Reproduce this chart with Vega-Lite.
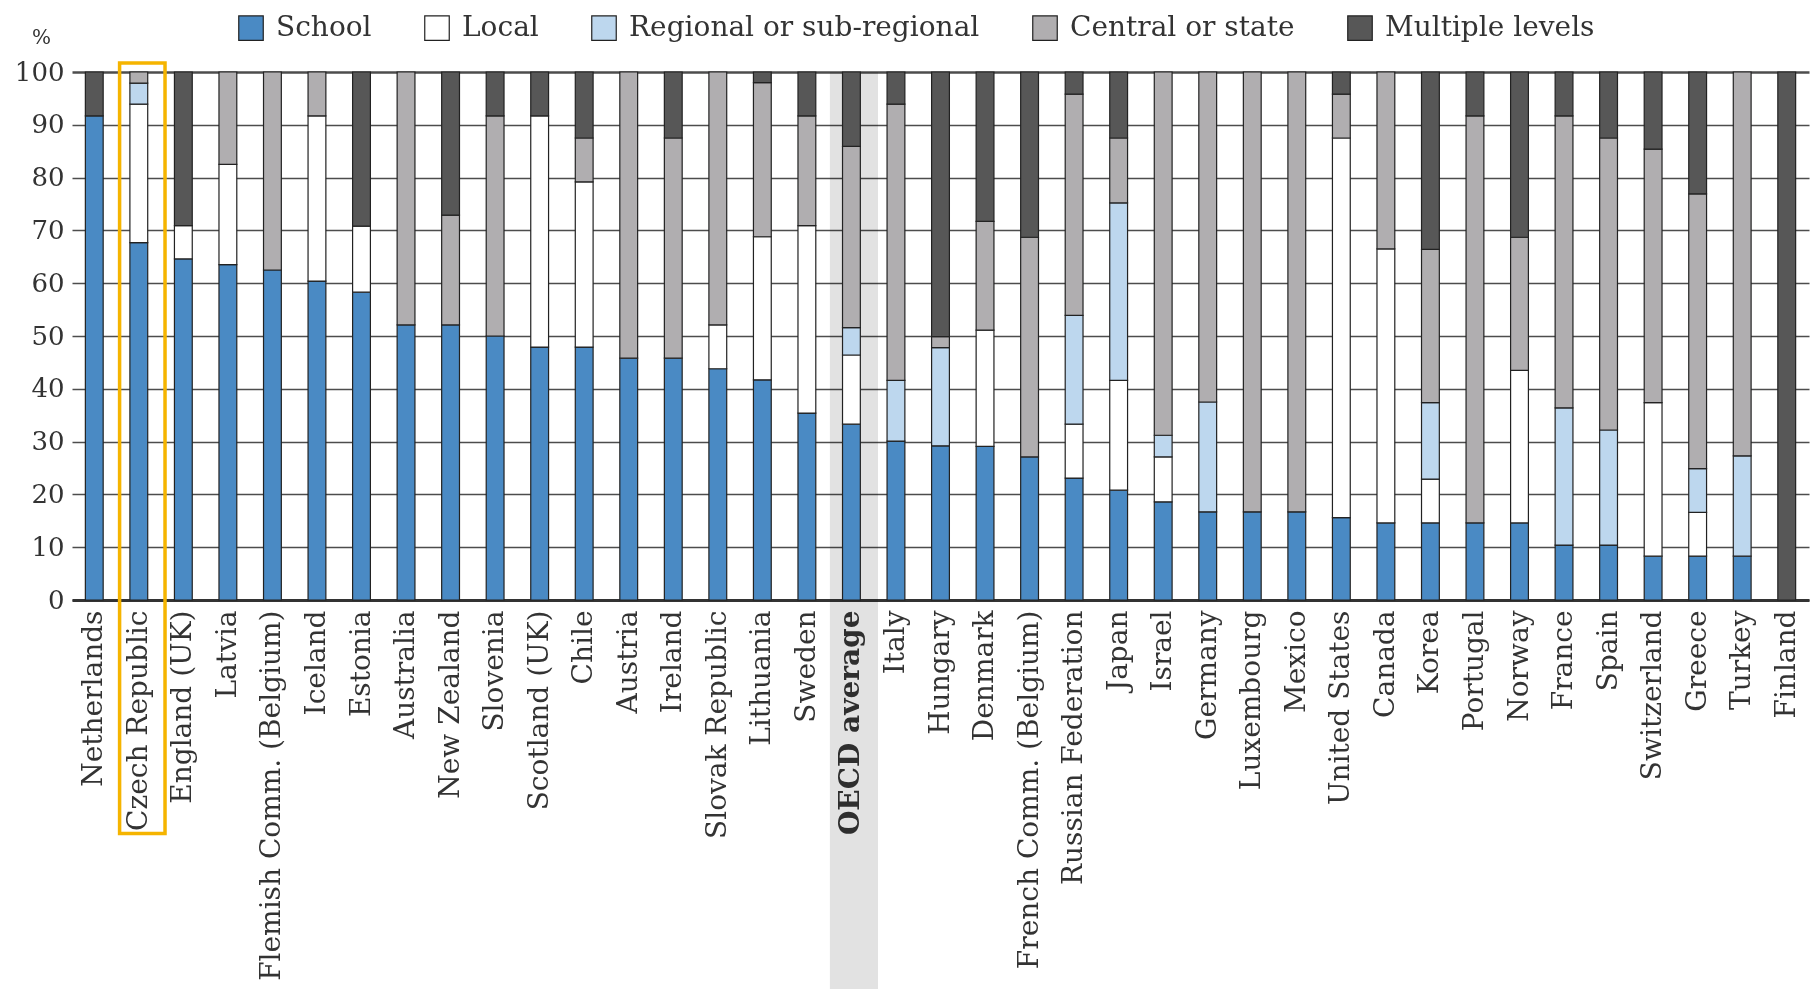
{
  "$schema": "https://vega.github.io/schema/vega-lite/v6.json",
  "width": 1737,
  "height": 528,
  "autosize": {"type": "none"},
  "padding": {"left": 72, "top": 72, "right": 5, "bottom": 389},
  "background": "white",
  "config": {"view": {"stroke": null}},
  "data": {"values": [
    {"c": "Netherlands", "School": 91.7, "Local": 0, "Regional or sub-regional": 0, "Central or state": 0, "Multiple levels": 8.3},
    {"c": "Czech Republic", "School": 67.7, "Local": 26.2, "Regional or sub-regional": 4.0, "Central or state": 2.1, "Multiple levels": 0},
    {"c": "England (UK)", "School": 64.6, "Local": 6.3, "Regional or sub-regional": 0, "Central or state": 0, "Multiple levels": 29.1},
    {"c": "Latvia", "School": 63.5, "Local": 19.0, "Regional or sub-regional": 0, "Central or state": 17.5, "Multiple levels": 0},
    {"c": "Flemish Comm. (Belgium)", "School": 62.5, "Local": 0, "Regional or sub-regional": 0, "Central or state": 37.5, "Multiple levels": 0},
    {"c": "Iceland", "School": 60.4, "Local": 31.3, "Regional or sub-regional": 0, "Central or state": 8.3, "Multiple levels": 0},
    {"c": "Estonia", "School": 58.3, "Local": 12.5, "Regional or sub-regional": 0, "Central or state": 0, "Multiple levels": 29.2},
    {"c": "Australia", "School": 52.1, "Local": 0, "Regional or sub-regional": 0, "Central or state": 47.9, "Multiple levels": 0},
    {"c": "New Zealand", "School": 52.1, "Local": 0, "Regional or sub-regional": 0, "Central or state": 20.8, "Multiple levels": 27.1},
    {"c": "Slovenia", "School": 50.0, "Local": 0, "Regional or sub-regional": 0, "Central or state": 41.7, "Multiple levels": 8.3},
    {"c": "Scotland (UK)", "School": 47.9, "Local": 43.8, "Regional or sub-regional": 0, "Central or state": 0, "Multiple levels": 8.3},
    {"c": "Chile", "School": 47.9, "Local": 31.3, "Regional or sub-regional": 0, "Central or state": 8.3, "Multiple levels": 12.5},
    {"c": "Austria", "School": 45.8, "Local": 0, "Regional or sub-regional": 0, "Central or state": 54.2, "Multiple levels": 0},
    {"c": "Ireland", "School": 45.8, "Local": 0, "Regional or sub-regional": 0, "Central or state": 41.7, "Multiple levels": 12.5},
    {"c": "Slovak Republic", "School": 43.8, "Local": 8.3, "Regional or sub-regional": 0, "Central or state": 47.9, "Multiple levels": 0},
    {"c": "Lithuania", "School": 41.7, "Local": 27.1, "Regional or sub-regional": 0, "Central or state": 29.2, "Multiple levels": 2.0},
    {"c": "Sweden", "School": 35.4, "Local": 35.5, "Regional or sub-regional": 0, "Central or state": 20.8, "Multiple levels": 8.3},
    {"c": "OECD average", "School": 33.3, "Local": 13.1, "Regional or sub-regional": 5.2, "Central or state": 34.3, "Multiple levels": 14.1},
    {"c": "Italy", "School": 30.1, "Local": 0, "Regional or sub-regional": 11.5, "Central or state": 52.3, "Multiple levels": 6.1},
    {"c": "Hungary", "School": 29.2, "Local": 0, "Regional or sub-regional": 18.6, "Central or state": 2.1, "Multiple levels": 50.1},
    {"c": "Denmark", "School": 29.1, "Local": 22.0, "Regional or sub-regional": 0, "Central or state": 20.6, "Multiple levels": 28.3},
    {"c": "French Comm. (Belgium)", "School": 27.1, "Local": 0, "Regional or sub-regional": 0, "Central or state": 41.6, "Multiple levels": 31.3},
    {"c": "Russian Federation", "School": 23.1, "Local": 10.2, "Regional or sub-regional": 20.6, "Central or state": 41.9, "Multiple levels": 4.2},
    {"c": "Japan", "School": 20.8, "Local": 20.8, "Regional or sub-regional": 33.6, "Central or state": 12.3, "Multiple levels": 12.5},
    {"c": "Israel", "School": 18.6, "Local": 8.5, "Regional or sub-regional": 4.1, "Central or state": 68.8, "Multiple levels": 0},
    {"c": "Germany", "School": 16.7, "Local": 0, "Regional or sub-regional": 20.8, "Central or state": 62.5, "Multiple levels": 0},
    {"c": "Luxembourg", "School": 16.7, "Local": 0, "Regional or sub-regional": 0, "Central or state": 83.3, "Multiple levels": 0},
    {"c": "Mexico", "School": 16.7, "Local": 0, "Regional or sub-regional": 0, "Central or state": 83.3, "Multiple levels": 0},
    {"c": "United States", "School": 15.6, "Local": 71.9, "Regional or sub-regional": 0, "Central or state": 8.3, "Multiple levels": 4.2},
    {"c": "Canada", "School": 14.6, "Local": 51.9, "Regional or sub-regional": 0, "Central or state": 33.5, "Multiple levels": 0},
    {"c": "Korea", "School": 14.6, "Local": 8.3, "Regional or sub-regional": 14.5, "Central or state": 29.0, "Multiple levels": 33.6},
    {"c": "Portugal", "School": 14.6, "Local": 0, "Regional or sub-regional": 0, "Central or state": 77.1, "Multiple levels": 8.3},
    {"c": "Norway", "School": 14.6, "Local": 28.9, "Regional or sub-regional": 0, "Central or state": 25.2, "Multiple levels": 31.3},
    {"c": "France", "School": 10.4, "Local": 0, "Regional or sub-regional": 26.0, "Central or state": 55.3, "Multiple levels": 8.3},
    {"c": "Spain", "School": 10.4, "Local": 0, "Regional or sub-regional": 21.8, "Central or state": 55.3, "Multiple levels": 12.5},
    {"c": "Switzerland", "School": 8.3, "Local": 29.1, "Regional or sub-regional": 0, "Central or state": 48.0, "Multiple levels": 14.6},
    {"c": "Greece", "School": 8.3, "Local": 8.3, "Regional or sub-regional": 8.3, "Central or state": 52.0, "Multiple levels": 23.1},
    {"c": "Turkey", "School": 8.3, "Local": 0, "Regional or sub-regional": 19.0, "Central or state": 72.7, "Multiple levels": 0},
    {"c": "Finland", "School": 0, "Local": 0, "Regional or sub-regional": 0, "Central or state": 0, "Multiple levels": 100}
  ]},
  "encoding": {
    "x": {
      "field": "c",
      "type": "nominal",
      "title": null,
      "scale": {
        "domain": ["Netherlands", "Czech Republic", "England (UK)", "Latvia", "Flemish Comm. (Belgium)", "Iceland", "Estonia", "Australia", "New Zealand", "Slovenia", "Scotland (UK)", "Chile", "Austria", "Ireland", "Slovak Republic", "Lithuania", "Sweden", "OECD average", "Italy", "Hungary", "Denmark", "French Comm. (Belgium)", "Russian Federation", "Japan", "Israel", "Germany", "Luxembourg", "Mexico", "United States", "Canada", "Korea", "Portugal", "Norway", "France", "Spain", "Switzerland", "Greece", "Turkey", "Finland"],
        "paddingInner": 0.6,
        "paddingOuter": 0.3
      },
      "axis": {
        "title": null,
        "labelAngle": -90,
        "labelFont": "DejaVu Serif",
        "labelFontSize": 28,
        "labelColor": "#333333",
        "labelPadding": 10,
        "labelLimit": 600,
        "labelFontWeight": {"condition": {"test": "datum.value === 'OECD average'", "value": "bold"}, "value": "normal"},
        "ticks": false,
        "domainColor": "#333333",
        "domainWidth": 3,
        "grid": false
      }
    }
  },
  "layer": [
    {
      "data": {"values": [{}]},
      "mark": {"type": "bar", "width": {"band": 2.7}, "xOffset": 2.5, "fill": "#e2e2e2", "blend": "multiply"},
      "encoding": {
        "x": {"datum": "OECD average", "title": null},
        "y": {"datum": 100, "title": null},
        "y2": {"datum": -74}
      }
    },
    {
      "transform": [
        {"fold": ["School", "Local", "Regional or sub-regional", "Central or state", "Multiple levels"], "as": ["level", "value"]},
        {"filter": "datum.value > 0"},
        {"calculate": "indexof(['School','Local','Regional or sub-regional','Central or state','Multiple levels'], datum.level)", "as": "rank"}
      ],
      "mark": {"type": "bar", "stroke": "#222222", "strokeWidth": 1.2},
      "encoding": {
        "y": {
          "field": "value",
          "type": "quantitative",
          "stack": "zero",
          "scale": {"domain": [0, 100], "nice": false},
          "axis": {
            "title": "%",
            "titleAngle": 0,
            "titleX": -31,
            "titleY": -35,
            "titleAlign": "center",
            "titleBaseline": "middle",
            "titleFont": "DejaVu Serif",
            "titleFontSize": 20,
            "titleFontWeight": "normal",
            "titleColor": "#333333",
            "values": [0, 10, 20, 30, 40, 50, 60, 70, 80, 90, 100],
            "domain": false,
            "ticks": false,
            "grid": true,
            "gridColor": "#4d4d4d",
            "gridWidth": {"condition": {"test": "datum.value === 100", "value": 2.6}, "value": 1.5},
            "labelFont": "DejaVu Serif",
            "labelFontSize": 26,
            "labelColor": "#333333",
            "labelPadding": 8
          }
        },
        "color": {
          "field": "level",
          "type": "nominal",
          "scale": {
            "domain": ["School", "Local", "Regional or sub-regional", "Central or state", "Multiple levels"],
            "range": ["#4a8ac4", "#ffffff", "#bdd7ee", "#b0aeb0", "#575757"]
          },
          "legend": {
            "orient": "none",
            "legendX": 165,
            "legendY": -58,
            "direction": "horizontal",
            "title": null,
            "padding": 0,
            "symbolType": "square",
            "symbolSize": 600,
            "symbolStrokeColor": "#222222",
            "symbolStrokeWidth": 1.2,
            "labelFont": "DejaVu Serif",
            "labelFontSize": 28,
            "labelColor": "#333333",
            "labelOffset": 11,
            "columnPadding": 50,
            "labelLimit": 600
          }
        },
        "order": {"field": "rank", "sort": "ascending"}
      }
    },
    {
      "data": {"values": [{}]},
      "mark": {"type": "bar", "filled": false, "stroke": "#f5b400", "strokeWidth": 3.5, "width": {"band": 2.55}, "xOffset": 3.5},
      "encoding": {
        "x": {"datum": "Czech Republic", "title": null},
        "y": {"datum": 101.7, "title": null},
        "y2": {"datum": -44.2}
      }
    }
  ]
}
